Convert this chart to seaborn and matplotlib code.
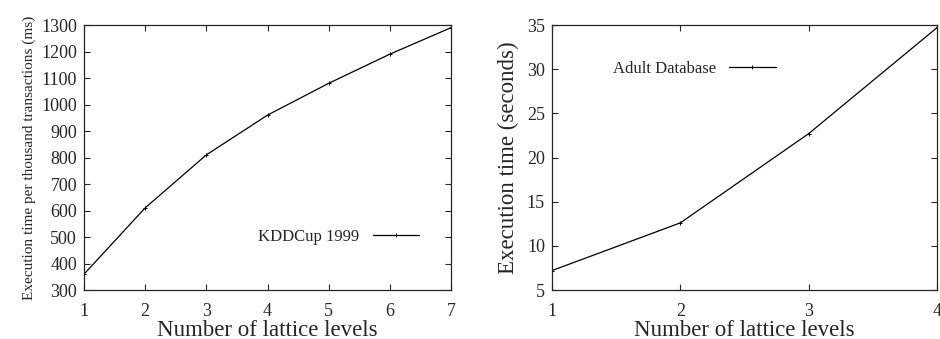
import pandas as pd
import matplotlib.pyplot as plt
import seaborn as sns

# KDDCup 1999: execution time per thousand transactions (ms)
kdd_levels = [1, 2, 3, 4, 5, 6, 7]
kdd_time = [360, 610, 810, 960, 1080, 1190, 1290]

# Adult database: execution time (seconds)
adult_levels = [1, 2, 3, 4]
adult_time = [7.2, 12.6, 22.7, 34.7]

sns.set_style('ticks')
plt.rcParams['font.family'] = ['Liberation Serif', 'DejaVu Serif']
plt.rcParams['xtick.direction'] = 'in'
plt.rcParams['ytick.direction'] = 'in'
plt.rcParams['xtick.top'] = True
plt.rcParams['ytick.right'] = True

fig = plt.figure(figsize=(9.4, 3.39), dpi=100)
ax1 = fig.add_axes([0.0894, 0.1445, 0.3904, 0.7817])
ax2 = fig.add_axes([0.5872, 0.1445, 0.4096, 0.7817])

df1 = pd.DataFrame({'level': kdd_levels, 'time': kdd_time})
df2 = pd.DataFrame({'level': adult_levels, 'time': adult_time})

line_kw = dict(color='black', linewidth=0.9, marker='+', markersize=3,
               markeredgewidth=0.7, markeredgecolor='black')
sns.lineplot(data=df1, x='level', y='time', ax=ax1, label='KDDCup 1999', **line_kw)
sns.lineplot(data=df2, x='level', y='time', ax=ax2, label='Adult Database', **line_kw)

ax1.set_xlim(1, 7)
ax1.set_ylim(300, 1300)
ax1.set_xticks(kdd_levels)
ax1.set_yticks(range(300, 1301, 100))
ax1.set_xlabel('Number of lattice levels', fontsize=16.5, labelpad=0)
ax1.set_ylabel('Execution time per thousand transactions (ms)', fontsize=11, labelpad=4)
ax1.legend(loc='center right', bbox_to_anchor=(0.955, 0.2), frameon=False,
           markerfirst=False, handlelength=2.8, fontsize=12)

ax2.set_xlim(1, 4)
ax2.set_ylim(5, 35)
ax2.set_xticks(adult_levels)
ax2.set_yticks(range(5, 36, 5))
ax2.set_xlabel('Number of lattice levels', fontsize=16.5, labelpad=0)
ax2.set_ylabel('Execution time (seconds)', fontsize=16.5, labelpad=6)
ax2.legend(loc='center right', bbox_to_anchor=(0.62, 0.834), frameon=False,
           markerfirst=False, handlelength=2.8, fontsize=12)

for ax in (ax1, ax2):
    ax.tick_params(labelsize=13, length=4, width=0.8)
    ax.tick_params(axis='y', pad=5)
    ax.tick_params(axis='x', pad=9)
    for s in ax.spines.values():
        s.set_linewidth(0.9)

plt.savefig('out.png', dpi=100)
